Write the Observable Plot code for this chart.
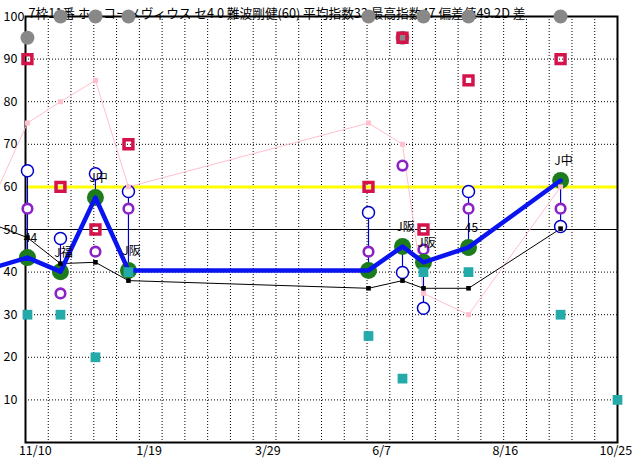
<!DOCTYPE html>
<html>
<head>
<meta charset="utf-8">
<script src="https://cdn.jsdelivr.net/npm/d3@7"></script>
<script src="https://cdn.jsdelivr.net/npm/@observablehq/plot@0.6"></script>
<style>
  html, body { margin: 0; padding: 0; background: white; }
</style>
</head>
<body>
<div id="chart"></div>
<script>
const title = "7枠11番 ホッコーメヴィウス セ4 0 難波剛健(60) 平均指数33 最高指数47 偏差値49.2D 差";

// x in days (grid every 14 days)
const raceDays   = [1.2, 21.5, 43.0, 63.3, 210.9, 231.8, 244.7, 272.4, 329.0];
const greenVals  = [43.4, 40.1, 57.5, 40.4, 40.4, 46.0, 42.3, 45.8, 61.5];
const blueVals   = [63.8, 47.9, 63.1, 58.9, 54.0, 39.9, 31.5, 58.9, 50.7];
const purpleVals = [54.9, 35.0, 44.8, 54.9, 44.8, 65.0, 45.3, 54.9, 54.9];
const blackVals  = [48.1, 42.0, 42.3, 38.0, 36.2, 38.0, 36.2, 36.2, 50.2];
const redVals    = [90, 60, 50, 70, 60, 95, 50, 85, 90];
const greyVals   = [95, 100, 100, 100, 100, 95, 100, 100, 100];
const pinkVals   = [75, 80, 85, 60, 75, 70, 35, 30, 60];
const tealVals   = [30, 30, 20, 40, 25, 15, 40, 40, 30];
const raceLabels = ["44", "J福", "J中", "J阪", "", "J阪", "J阪", "45", "J中"];

// previous race (off the left edge) for the connecting lines
const prevDay = -20, prevGreen = 41.0, prevBlack = 51.2, prevPink = 57.0;
// next scheduled teal point
const nextTealDay = 364, nextTealVal = 10;

const xTickDays   = [6, 76, 149, 219, 295, 363];
const xTickLabels = ["11/10", "1/19", "3/29", "6/7", "8/16", "10/25"];
const yTickVals   = [10, 20, 30, 40, 50, 60, 70, 80, 90, 100];
const gridDays    = d3.range(14, 364, 14);
const dottedY     = [10, 20, 30, 40, 60, 70, 80, 90];

const races = raceDays.map((d, i) => ({
  day: d, green: greenVals[i], blue: blueVals[i], purple: purpleVals[i],
  black: blackVals[i], red: redVals[i], grey: greyVals[i], pink: pinkVals[i],
  teal: tealVals[i], label: raceLabels[i]
}));
const lineData = [{day: prevDay, green: prevGreen, black: prevBlack, pink: prevPink}, ...races];
const tealData = [...races.map(r => ({day: r.day, teal: r.teal})), {day: nextTealDay, teal: nextTealVal}];

const font = "'Noto Sans CJK JP', sans-serif";

const chart = Plot.plot({
  width: 632,
  height: 460,
  marginLeft: 25,
  marginRight: 15,
  marginTop: 16,
  marginBottom: 18,
  style: {fontFamily: font, background: "white", overflow: "visible"},
  x: {domain: [0, 364], axis: null},
  y: {domain: [0, 100], axis: null},
  marks: [
    Plot.ruleX(gridDays, {x: d => d, stroke: "black", strokeWidth: 1, strokeDasharray: "1,2"}),
    Plot.ruleY(dottedY, {y: d => d, stroke: "black", strokeWidth: 1, strokeDasharray: "1,2"}),
    Plot.ruleY([50], {y: d => d, stroke: "black", strokeWidth: 1}),
    Plot.ruleY([60], {y: d => d, stroke: "#ffff00", strokeWidth: 3}),
    Plot.frame({stroke: "black", strokeWidth: 2}),
    Plot.text([title], {text: d => d, frameAnchor: "top-left", textAnchor: "start", dx: 3, dy: -8, fontSize: 12.7, fill: "black"}),
    Plot.text(yTickVals, {y: d => d, text: d => String(d), frameAnchor: "left", textAnchor: "start", dx: -22, fontSize: 12.5, fill: "black"}),
    Plot.text(xTickDays, {x: d => d, text: (d, i) => xTickLabels[i], frameAnchor: "bottom", dy: 12, fontSize: 12.5, fill: "black"}),
    // pink line
    Plot.line(lineData, {x: "day", y: "pink", stroke: "#ffbfcc", strokeWidth: 1}),
    // black line
    Plot.line(lineData, {x: "day", y: "black", stroke: "black", strokeWidth: 1}),
    // vertical connectors
    Plot.ruleX(races, {x: "day", y1: "green", y2: "blue", stroke: "#0000cc", strokeWidth: 1.2}),
    // grey circles
    Plot.dot(races, {x: "day", y: "grey", r: 7, fill: "#888888", stroke: "none"}),
    // red squares
    Plot.dot(races, {x: "day", y: "red", r: 5, symbol: "square", fill: "none", stroke: "#d4134a", strokeWidth: 3.5}),
    // purple rings
    Plot.dot(races, {x: "day", y: "purple", r: 4.8, fill: "white", stroke: "#8a22c8", strokeWidth: 2.6}),
    // blue rings
    Plot.dot(races, {x: "day", y: "blue", r: 6, fill: "white", stroke: "#0000cc", strokeWidth: 1.5}),
    // green circles
    Plot.dot(races, {x: "day", y: "green", r: 8.5, fill: "#1d7d1d", stroke: "none"}),
    // thick blue line
    Plot.line(lineData, {x: "day", y: "green", stroke: "#0a14f0", strokeWidth: 4.5}),
    // teal squares
    Plot.dot(tealData, {x: "day", y: "teal", r: 5.5, symbol: "square", fill: "#25aaaa", stroke: "none"}),
    // pink squares
    Plot.dot(races, {x: "day", y: "pink", r: 2.8, symbol: "square", fill: "#ffbfcc", stroke: "none"}),
    // black squares
    Plot.dot(races, {x: "day", y: "black", r: 2.6, symbol: "square", fill: "black", stroke: "none"}),
    // race labels
    Plot.text(races, {x: "day", y: "green", text: "label", dx: 3, dy: -19, fontSize: 12, fill: "black"})
  ]
});
document.getElementById("chart").appendChild(chart);
</script>
</body>
</html>
